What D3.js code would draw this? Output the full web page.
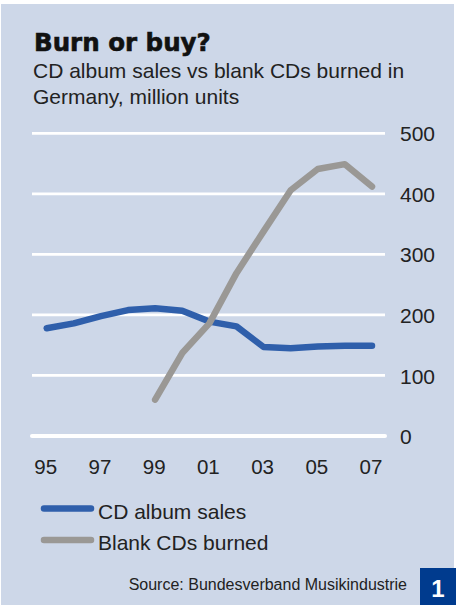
<!DOCTYPE html>
<html>
<head>
<meta charset="utf-8">
<script src="https://cdn.jsdelivr.net/npm/d3@7"></script>
<style>
  html, body { margin: 0; padding: 0; background: #ffffff; }
  svg { display: block; }
</style>
</head>
<body>
<script>
// Years on the x axis (1995–2007)
const years = [1995, 1996, 1997, 1998, 1999, 2000, 2001, 2002, 2003, 2004, 2005, 2006, 2007];
// CD album sales, million units
const cdSales = [178, 186, 198, 208, 211, 207, 189, 181, 147, 145, 148, 149, 149];
// Blank CDs burned, million units (series starts in 1999)
const burnYears = [1999, 2000, 2001, 2002, 2003, 2004, 2005, 2006, 2007];
const blankBurned = [60, 137, 186, 269, 338, 406, 441, 449, 412];
// Axis ticks
const yTicks = [0, 100, 200, 300, 400, 500];
const xTickYears = [1995, 1997, 1999, 2001, 2003, 2005, 2007];
const xTickLabels = ["95", "97", "99", "01", "03", "05", "07"];
// Legend entries
const legendLabels = ["CD album sales", "Blank CDs burned"];

const W = 456, H = 605;
const BLUE = "#2f5fab", GREY = "#9a9895", BG = "#cdd7e8";
const FONT = "'Liberation Sans', Arial, Helvetica, sans-serif";

const svg = d3.select("body").append("svg")
  .attr("width", W).attr("height", H);

// panel background
svg.append("rect")
  .attr("x", 1).attr("y", 4).attr("width", 453).attr("height", H - 4)
  .attr("fill", BG);

// title and subtitle
svg.append("text")
  .attr("x", 34).attr("y", 51)
  .attr("font-family", "'DejaVu Sans', sans-serif")
  .attr("font-weight", "bold")
  .attr("font-size", 24.5)
  .attr("fill", "#111")
  .attr("stroke", "#111").attr("stroke-width", 0.6)
  .text("Burn or buy?");

const sub = svg.append("text")
  .attr("font-family", FONT).attr("font-size", 21).attr("fill", "#222");
sub.append("tspan").attr("x", 33).attr("y", 78).text("CD album sales vs blank CDs burned in");
sub.append("tspan").attr("x", 33).attr("y", 104).text("Germany, million units");

// scales
const x = d3.scaleLinear().domain([1995, 2007]).range([46.7, 372]);
const y = d3.scaleLinear().domain([0, 500]).range([436, 133.3]);

// horizontal gridlines
const grid = svg.append("g");
grid.selectAll("line").data(yTicks).join("line")
  .attr("x1", 32).attr("x2", 385)
  .attr("y1", d => y(d)).attr("y2", d => y(d))
  .attr("stroke", "#ffffff")
  .attr("stroke-width", d => d === 0 ? 4 : 2.8)
  .attr("stroke-linecap", d => d === 0 ? "round" : "butt");

// right-hand y axis labels
const yAxis = d3.axisRight(y).tickValues(yTicks).tickSize(0).tickPadding(0);
svg.append("g")
  .attr("transform", "translate(400,0)")
  .call(yAxis)
  .call(g => g.select(".domain").remove())
  .call(g => g.selectAll("text")
    .attr("font-family", FONT).attr("font-size", 21).attr("fill", "#222")
    .attr("dy", "0.36em").attr("x", 0));

// x axis labels
const xAxis = d3.axisBottom(x).tickValues(xTickYears)
  .tickFormat((d, i) => xTickLabels[i]).tickSize(0).tickPadding(0);
svg.append("g")
  .attr("transform", "translate(-1.5,474)")
  .call(xAxis)
  .call(g => g.select(".domain").remove())
  .call(g => g.selectAll("text")
    .attr("font-family", FONT).attr("font-size", 20.5).attr("fill", "#222")
    .attr("dy", 0).attr("y", 0));

// series lines
const line = d3.line().x(d => x(d[0])).y(d => y(d[1]));
svg.append("path")
  .datum(years.map((yr, i) => [yr, cdSales[i]]))
  .attr("d", line)
  .attr("fill", "none").attr("stroke", BLUE).attr("stroke-width", 6.5)
  .attr("stroke-linecap", "round").attr("stroke-linejoin", "round");
svg.append("path")
  .datum(burnYears.map((yr, i) => [yr, blankBurned[i]]))
  .attr("d", line)
  .attr("fill", "none").attr("stroke", GREY).attr("stroke-width", 6.5)
  .attr("stroke-linecap", "round").attr("stroke-linejoin", "round");

// legend
const legendColors = [BLUE, GREY];
const leg = svg.append("g");
legendLabels.forEach((lab, i) => {
  const ly = 508.5 + i * 31.5;
  leg.append("line")
    .attr("x1", 44).attr("x2", 91).attr("y1", ly).attr("y2", ly)
    .attr("stroke", legendColors[i]).attr("stroke-width", 6.5)
    .attr("stroke-linecap", "round");
  leg.append("text")
    .attr("x", 98).attr("y", ly + 10)
    .attr("font-family", FONT).attr("font-size", 21).attr("fill", "#222")
    .text(lab);
});

// source note
svg.append("text")
  .attr("x", 407).attr("y", 590)
  .attr("text-anchor", "end")
  .attr("font-family", FONT).attr("font-size", 16).attr("fill", "#222")
  .text("Source: Bundesverband Musikindustrie");

// page marker box
svg.append("rect")
  .attr("x", 420).attr("y", 568).attr("width", 36).attr("height", 37)
  .attr("fill", "#003b8e");
svg.append("text")
  .attr("x", 438).attr("y", 597)
  .attr("text-anchor", "middle")
  .attr("font-family", FONT).attr("font-weight", "bold").attr("font-size", 24)
  .attr("fill", "#ffffff")
  .text("1");
</script>
</body>
</html>
